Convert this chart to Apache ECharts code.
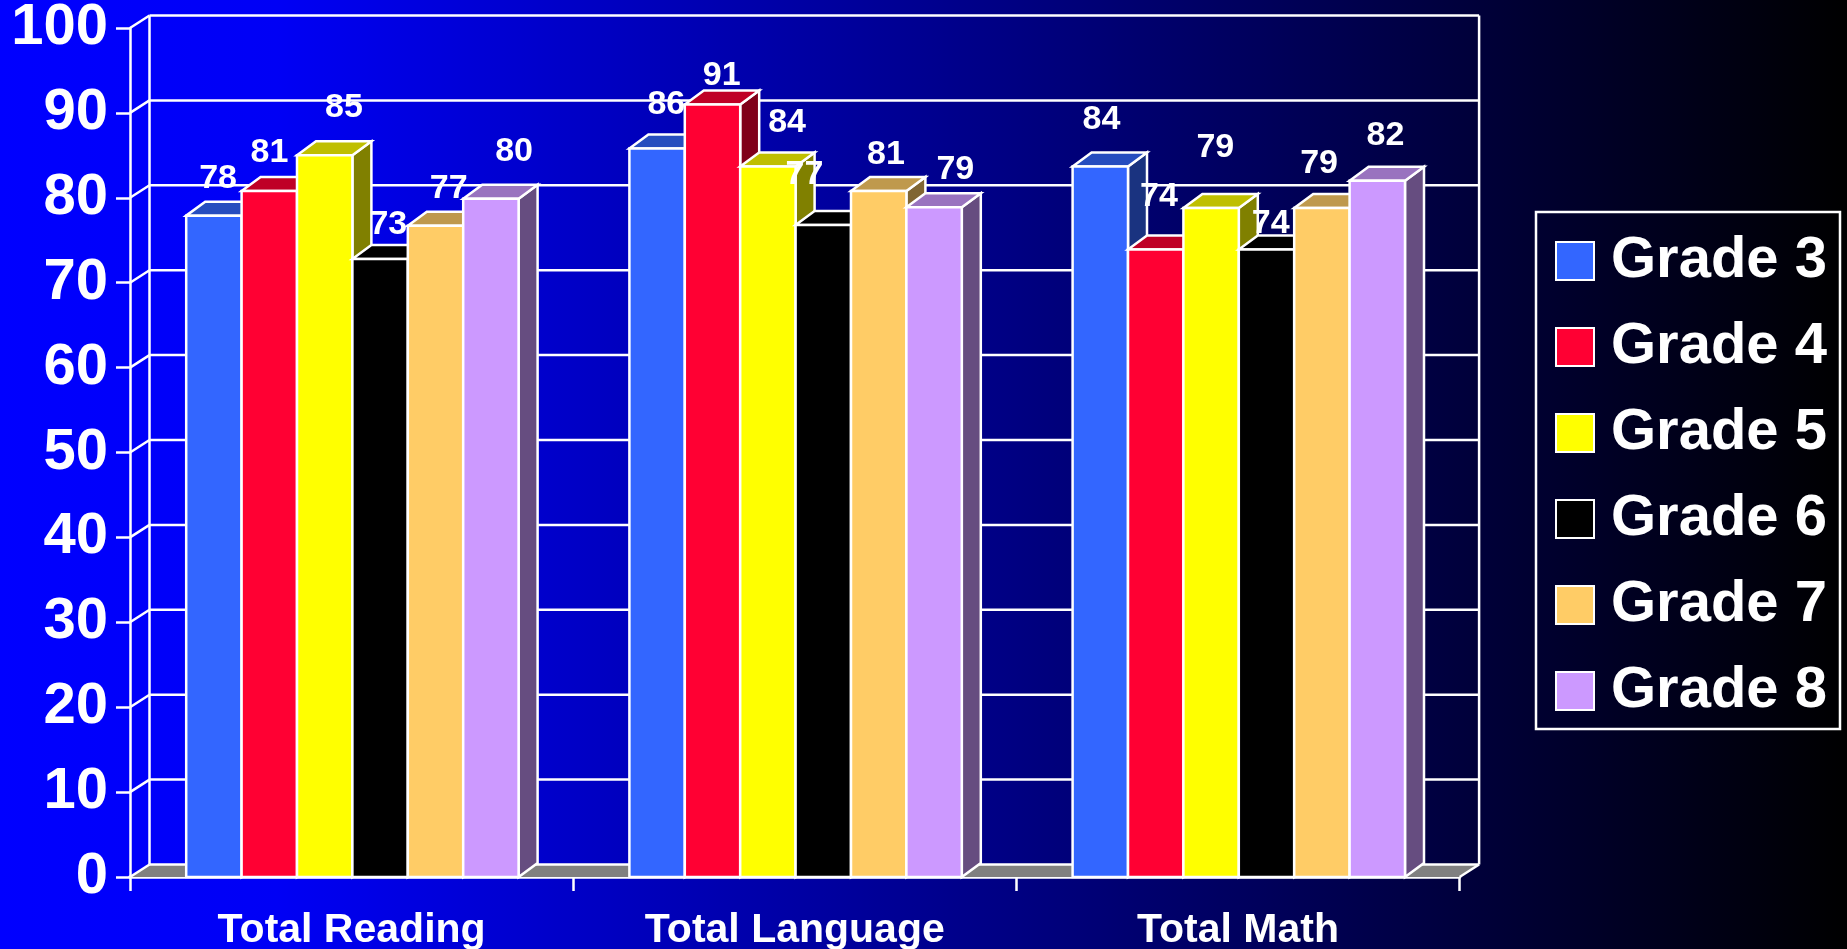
<!DOCTYPE html>
<html>
<head>
<meta charset="utf-8">
<title>Grade scores</title>
<script src="https://cdn.jsdelivr.net/npm/echarts@6/dist/echarts.min.js"></script>
<style>
  html, body { margin: 0; padding: 0; background: #000; }
  #chart { width: 1847px; height: 949px; }
</style>
</head>
<body>
<div id="chart"></div>
<script>
const categories = ['Total Reading', 'Total Language', 'Total Math']
const grades = ['Grade 3', 'Grade 4', 'Grade 5', 'Grade 6', 'Grade 7', 'Grade 8']
const yTicks = [0, 10, 20, 30, 40, 50, 60, 70, 80, 90, 100]

const grade3 = [77.9, 85.8, 83.7]
const grade4 = [80.8, 91.0, 73.9]
const grade5 = [85.0, 83.7, 78.8]
const grade6 = [72.8, 76.8, 73.9]
const grade7 = [76.7, 80.8, 78.8]
const grade8 = [79.9, 78.9, 82.0]
const gradeValues = [grade3, grade4, grade5, grade6, grade7, grade8]

// front, top and side face of each bar
const faceColors = [
  ['#3366FF', '#264DBF', '#1A3380'],
  ['#FF0033', '#BF0026', '#800019'],
  ['#FFFF00', '#BFBF00', '#808000'],
  ['#000000', '#000000', '#000000'],
  ['#FFCC66', '#BF994D', '#806633'],
  ['#CC99FF', '#9973BF', '#664D80']
]

// the labels sit off-centre in the original, px from the bar's top centre
const labelShift = [
  [[5, -37], [10, -44], [2, -47]],
  [[1, -38], [10, -29], [4, -53]],
  [[20, -48], [20, -44], [5, -60]],
  [[9, -34], [-18, -50], [5, -26]],
  [[14, -37], [8, -36], [-2, -44]],
  [[24, -47], [22, -38], [9, -45]]
]

const wallDx = 19.5
const wallDy = -12.5
const barDx = 19
const barDy = -14
const barNudge = 0.8
const strokeW = 2.5
const lineStyle = { stroke: '#fff', lineWidth: strokeW, fill: null }

function whiteLine(x1, y1, x2, y2) {
  return { type: 'line', shape: { x1, y1, x2, y2 }, style: lineStyle }
}

// back wall, side wall and grey floor
function renderWall(params, api) {
  const tick = api.value(1)
  const box = params.coordSys
  const y = api.coord([0, tick])[1]
  const left = box.x
  const right = box.x + box.width
  const children = [
    whiteLine(left, y, left + wallDx, y + wallDy),
    whiteLine(left + wallDx, y + wallDy, right + wallDx, y + wallDy)
  ]
  if (tick === 0) {
    children.unshift({
      type: 'polygon',
      shape: { points: [[left, y], [left + wallDx, y + wallDy], [right + wallDx, y + wallDy], [right, y]] },
      style: { fill: '#808080' }
    })
    children.push(whiteLine(right, y, right + wallDx, y + wallDy))
    children.push(whiteLine(left + wallDx, y + wallDy, left + wallDx, box.y + wallDy))
    children.push(whiteLine(right + wallDx, y + wallDy, right + wallDx, box.y + wallDy))
  }
  return { type: 'group', children }
}

function barRenderer(gradeIndex) {
  return function (params, api) {
    const cat = api.value(0)
    const top = api.coord([cat, api.value(1)])
    const base = api.coord([cat, 0])
    const barW = api.size([1, 0])[0] / 8
    const x1 = top[0] + (gradeIndex - 3) * barW + barNudge
    const x2 = x1 + barW
    const colors = faceColors[gradeIndex]
    const edge = { stroke: '#fff', lineWidth: strokeW, lineJoin: 'miter' }
    return {
      type: 'group',
      children: [
        {
          type: 'polygon',
          shape: { points: [[x2, top[1]], [x2 + barDx, top[1] + barDy], [x2 + barDx, base[1] + barDy], [x2, base[1]]] },
          style: { fill: colors[2], ...edge }
        },
        {
          type: 'polygon',
          shape: { points: [[x1, top[1]], [x1 + barDx, top[1] + barDy], [x2 + barDx, top[1] + barDy], [x2, top[1]]] },
          style: { fill: colors[1], ...edge }
        },
        {
          type: 'rect',
          shape: { x: x1, y: top[1], width: barW, height: base[1] - top[1] },
          style: { fill: colors[0], ...edge }
        }
      ]
    }
  }
}

function renderLabel(params, api) {
  const grade = api.value(2)
  const cat = api.value(0)
  const val = api.value(1)
  const top = api.coord([cat, val])
  const barW = api.size([1, 0])[0] / 8
  const shift = labelShift[grade][cat]
  return {
    type: 'text',
    x: top[0] + (grade - 2.5) * barW + shift[0],
    y: top[1] + shift[1],
    style: {
      text: String(Math.round(val)),
      fill: '#fff',
      fontFamily: 'Liberation Sans',
      fontWeight: 'bold',
      fontSize: 34,
      align: 'center',
      verticalAlign: 'middle'
    }
  }
}

const labelData = []
gradeValues.forEach((vals, g) => vals.forEach((v, c) => labelData.push([c, v, g])))

const series = [
  {
    type: 'custom',
    name: 'wall',
    silent: true,
    clip: false,
    z: 1,
    renderItem: renderWall,
    encode: { x: 0, y: 1 },
    data: yTicks.map((t) => [0, t])
  }
]
grades.forEach((name, g) => {
  series.push({
    type: 'custom',
    name,
    silent: true,
    clip: false,
    z: 3,
    itemStyle: { color: faceColors[g][0] },
    renderItem: barRenderer(g),
    encode: { x: 0, y: 1 },
    data: gradeValues[g].map((v, c) => [c, v])
  })
})
series.push({
  type: 'custom',
  name: 'labels',
  silent: true,
  clip: false,
  z: 6,
  renderItem: renderLabel,
  encode: { x: 0, y: 1 },
  data: labelData
})

const myChart = echarts.init(document.getElementById('chart'))
myChart.setOption({
  animation: false,
  backgroundColor: new echarts.graphic.LinearGradient(0, 0, 1, 0, [
    { offset: 0, color: '#0000ff' },
    { offset: 0.15, color: '#0000f5' },
    { offset: 1, color: '#000000' }
  ]),
  grid: { left: 130, right: 387.4, top: 28, bottom: 72, containLabel: false, outerBoundsMode: 'none' },
  legend: {
    data: grades,
    orient: 'vertical',
    left: 1536,
    top: 212,
    padding: [20, 13, 9, 19],
    itemWidth: 38,
    itemHeight: 38,
    itemGap: 28,
    borderColor: '#fff',
    borderWidth: 2.5,
    icon: 'rect',
    itemStyle: { borderColor: '#fff', borderWidth: 2 },
    selectedMode: false,
    textStyle: {
      color: '#fff',
      fontFamily: 'Liberation Sans',
      fontWeight: 'bold',
      fontSize: 58,
      padding: [24, 0, 0, 12]
    }
  },
  xAxis: {
    type: 'category',
    data: categories,
    boundaryGap: true,
    axisLine: { lineStyle: { color: '#fff', width: 3.5 } },
    axisTick: { show: true, alignWithLabel: false, length: 14, lineStyle: { color: '#fff', width: 2.5 } },
    axisLabel: {
      color: '#fff',
      fontFamily: 'Liberation Sans',
      fontWeight: 'bold',
      fontSize: 41,
      margin: 33
    }
  },
  yAxis: {
    type: 'value',
    min: 0,
    max: 100,
    interval: 10,
    splitLine: { show: false },
    axisLine: { show: true, lineStyle: { color: '#fff', width: 2.5 } },
    axisTick: { show: true, length: 14, lineStyle: { color: '#fff', width: 2.5 } },
    axisLabel: {
      color: '#fff',
      fontFamily: 'Liberation Sans',
      fontWeight: 'bold',
      fontSize: 58,
      margin: 22,
      padding: [22, 0, 0, 0]
    }
  },
  series
})
</script>
</body>
</html>
